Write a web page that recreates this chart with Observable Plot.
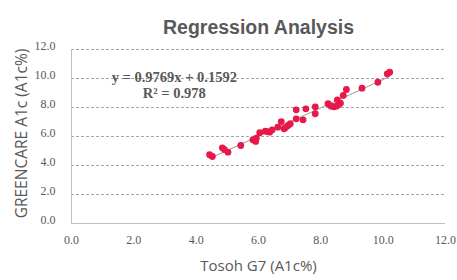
<!DOCTYPE html>
<html>
<head>
<meta charset="utf-8">
<script src="https://cdn.jsdelivr.net/npm/d3@7"></script>
<script src="https://cdn.jsdelivr.net/npm/@observablehq/plot@0.6"></script>
<style>
html,body{margin:0;padding:0;background:#fff;}
</style>
</head>
<body>
<div id="chart"></div>
<script>
const tosoh = [4.43,4.52,4.84,4.91,5.02,5.43,5.82,5.91,5.93,6.04,6.22,6.28,6.36,6.44,6.62,6.73,6.82,6.87,6.95,7.02,7.21,7.43,7.21,7.52,7.82,7.82,8.23,8.33,8.42,8.50,8.57,8.63,8.53,8.72,8.82,9.32,9.83,10.13,10.21];
const greencare = [4.74,4.62,5.22,5.10,4.92,5.38,5.77,5.66,5.88,6.26,6.37,6.34,6.30,6.46,6.64,7.03,6.53,6.62,6.76,6.88,7.22,7.15,7.84,7.91,8.05,7.57,8.26,8.09,8.05,8.09,8.19,8.30,8.53,8.83,9.24,9.33,9.74,10.32,10.43];
const slope = 0.9769, intercept = 0.1592, rSquared = 0.978;
const trendX = [4.43, 10.21];
const ticks = [0,2,4,6,8,10,12];
const titleText = "Regression Analysis";
const xLabel = "Tosoh G7 (A1c%)";
const yLabel = "GREENCARE A1c (A1c%)";
const eqLines = [`y = ${slope}x + ${intercept}`, `R² = ${rSquared}`];

const points = tosoh.map((x,i)=>({x, y: greencare[i]}));
const trend = trendX.map(x=>({x, y: slope*x+intercept}));

const fmt = d3.format(".1f");
const gray = "#595959";

const chart = Plot.plot({
  width: 457,
  height: 280,
  marginLeft: 71,
  marginRight: 12,
  marginTop: 49,
  marginBottom: 57,
  style: {fontFamily: "'Liberation Serif', serif", fontSize: "12px", color: gray, background: "#fff"},
  x: {domain: [0,12], ticks, tickFormat: fmt},
  y: {domain: [0,12], ticks, tickFormat: fmt},
  marks: [
    Plot.gridY(ticks.slice(1), {stroke: "#a6a6a6", strokeOpacity: 1, strokeDasharray: "3,2", strokeWidth: 1}),
    Plot.ruleX([0], {stroke: "#bfbfbf", strokeWidth: 1}),
    Plot.ruleY([0], {stroke: "#bfbfbf", strokeWidth: 1}),
    Plot.axisX({ticks, tickFormat: fmt, tickSize: 0, tickPadding: 12, label: null, fill: gray}),
    Plot.axisY({ticks, tickFormat: fmt, tickSize: 0, tickPadding: 16, label: null, fill: gray, dy: -3}),
    Plot.line(trend, {x: "x", y: "y", stroke: "#999999", strokeWidth: 1}),
    Plot.dot(points, {x: "x", y: "y", r: 3.4, fill: "#e8184a", stroke: "none"}),
    Plot.text([eqLines[0]], {x: 3.3, y: 10.07, text: d=>d, fontFamily: "'Liberation Serif', serif", fontWeight: "bold", fontSize: 14.5, fill: gray}),
    Plot.text([eqLines[1]], {x: 3.3, y: 8.95, text: d=>d, fontFamily: "'Liberation Serif', serif", fontWeight: "bold", fontSize: 14.5, fill: gray}),
    Plot.text([titleText], {frameAnchor: "top", dy: -29, text: d=>d, fontFamily: "'Liberation Sans', Arial, sans-serif", fontWeight: "bold", fontSize: 19.5, fill: gray, letterSpacing: "-0.6px"}),
    Plot.text([xLabel], {frameAnchor: "bottom", dy: 47, text: d=>d, fontFamily: "'Open Sans', sans-serif", fontSize: 15, fill: gray, letterSpacing: "-0.8px"}),
    Plot.text([yLabel], {frameAnchor: "left", textAnchor: "middle", dx: -49, dy: -3, rotate: -90, text: d=>d, fontFamily: "'Open Sans', sans-serif", fontSize: 15.5, fill: gray, letterSpacing: "-0.8px"})
  ]
});
document.getElementById("chart").appendChild(chart);
</script>
</body>
</html>
